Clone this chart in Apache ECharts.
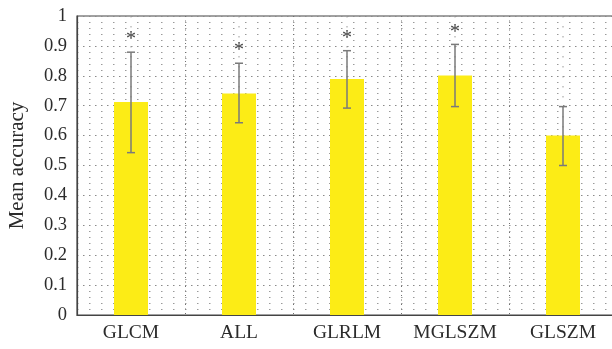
<!DOCTYPE html>
<html>
<head>
<meta charset="utf-8">
<style>
  html, body { margin: 0; padding: 0; background: #fff; }
  #chart { width: 612px; height: 349px; }
</style>
<script src="https://cdn.jsdelivr.net/npm/echarts@6/dist/echarts.min.js"></script>
</head>
<body>
<div id="chart"></div>
<script>
// Feature sets and their mean classification accuracy
const categories = ['GLCM', 'ALL', 'GLRLM', 'MGLSZM', 'GLSZM'];
const meanAccuracy = [0.712, 0.741, 0.789, 0.801, 0.600];
const errorLow = [0.543, 0.643, 0.692, 0.697, 0.500];
const errorHigh = [0.879, 0.842, 0.884, 0.905, 0.697];
const significant = [true, true, true, true, false];
const yTicks = [0, 0.1, 0.2, 0.3, 0.4, 0.5, 0.6, 0.7, 0.8, 0.9, 1];

const FONT = '"Liberation Serif", "DejaVu Serif", serif';
const TEXT = '#2b2b2b';

const chart = echarts.init(document.getElementById('chart'), null, { renderer: 'canvas' });

const errorData = categories.map((c, i) => [i, errorLow[i], errorHigh[i], significant[i] ? 1 : 0]);

chart.setOption({
  animation: false,
  grid: {
    left: 77, top: 16, right: -5, bottom: 34,
    outerBoundsMode: 'none',
    containLabel: false,
    show: true, borderColor: '#444', borderWidth: 1.2, backgroundColor: 'transparent'
  },
  xAxis: {
    type: 'category',
    data: categories,
    axisLine: { lineStyle: { color: '#444', width: 1.2 } },
    axisTick: { show: false },
    axisLabel: { color: TEXT, fontFamily: FONT, fontSize: 19.5, margin: 8, interval: 0, hideOverlap: false },
    splitLine: { show: true, interval: 0, lineStyle: { color: '#707070', type: [1, 3.5], width: 1 } }
  },
  yAxis: {
    type: 'value',
    min: 0, max: 1, interval: 0.1,
    name: 'Mean accuracy',
    nameLocation: 'middle',
    nameGap: 49,
    nameTextStyle: { color: TEXT, fontFamily: FONT, fontSize: 21 },
    axisLine: { show: true, lineStyle: { color: '#444', width: 1.2 } },
    axisTick: { show: false },
    axisLabel: {
      color: TEXT, fontFamily: FONT, fontSize: 18.5, margin: 10, hideOverlap: false,
      formatter: v => {
        const t = yTicks.find(k => Math.abs(k - v) < 1e-9);
        return t === undefined ? '' : String(t);
      }
    },
    splitLine: { show: true, lineStyle: { color: '#8a8a8a', type: [1.5, 4.5], width: 1 } },
    minorTick: { show: false, splitNumber: 5 },
    minorSplitLine: { show: true, lineStyle: { color: '#9a9a9a', type: [1.5, 10.5], width: 1 } }
  },
  series: [
    {
      // sparse dotted guide through each category centre
      type: 'custom',
      z: 1,
      silent: true,
      data: categories.map((c, i) => [i]),
      renderItem: (params, api) => {
        const top = api.coord([api.value(0), 1]);
        const bottom = api.coord([api.value(0), 0]);
        return {
          type: 'line',
          shape: { x1: top[0], y1: top[1], x2: bottom[0], y2: bottom[1] },
          style: { stroke: '#999', lineWidth: 1, lineDash: [1.5, 8.5] }
        };
      }
    },
    {
      type: 'bar',
      z: 2,
      data: meanAccuracy,
      barWidth: 34,
      itemStyle: { color: '#FCEC16' }
    },
    {
      // error bars with caps, plus significance marker above the cap
      type: 'custom',
      z: 3,
      data: errorData,
      renderItem: (params, api) => {
        const x = api.value(0);
        const lo = api.coord([x, api.value(1)]);
        const hi = api.coord([x, api.value(2)]);
        const cap = 4;
        const stroke = { stroke: '#7a7a7a', lineWidth: 1.5 };
        const children = [
          { type: 'line', shape: { x1: lo[0], y1: lo[1], x2: hi[0], y2: hi[1] }, style: stroke },
          { type: 'line', shape: { x1: hi[0] - cap, y1: hi[1], x2: hi[0] + cap, y2: hi[1] }, style: stroke },
          { type: 'line', shape: { x1: lo[0] - cap, y1: lo[1], x2: lo[0] + cap, y2: lo[1] }, style: stroke }
        ];
        if (api.value(3)) {
          children.push({
            type: 'text',
            style: {
              text: '*', x: hi[0], y: hi[1] - 2,
              fill: '#444', font: '20px ' + FONT,
              align: 'center', verticalAlign: 'bottom'
            }
          });
        }
        return { type: 'group', children };
      }
    }
  ]
});
</script>
</body>
</html>
